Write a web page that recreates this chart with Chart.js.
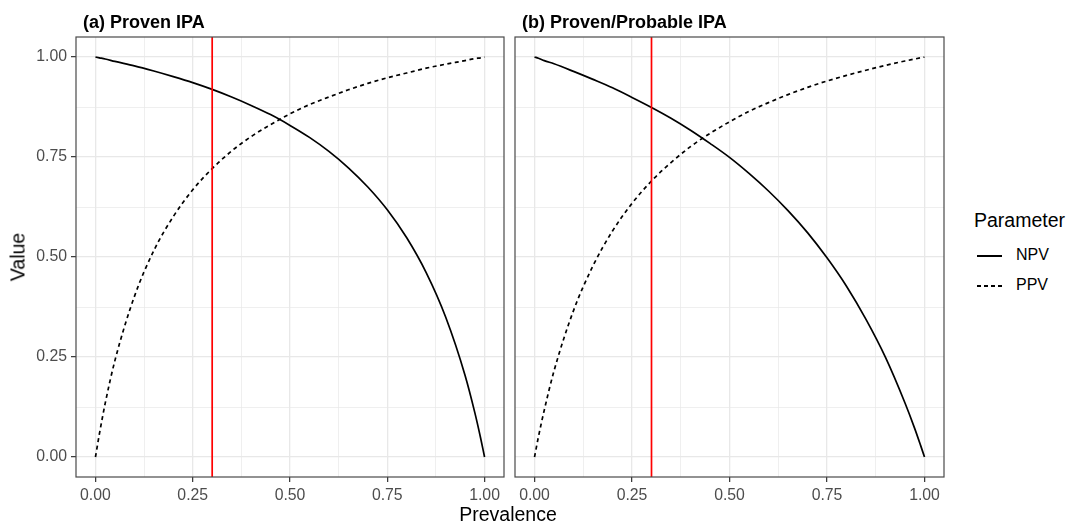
<!DOCTYPE html>
<html>
<head>
<meta charset="utf-8">
<script src="https://cdn.jsdelivr.net/npm/chart.js@4.4.1/dist/chart.umd.min.js"></script>
<style>
  body { margin: 0; background: #fff; font-family: "Liberation Sans", Arial, sans-serif; }
  #wrap { position: relative; width: 1068px; height: 523px; overflow: hidden; }
  canvas { position: absolute; top: 0; }
  #chartA { left: 0; }
  #chartB { left: 505px; }
  .txt { position: absolute; white-space: nowrap; color: #000; }
  .panel-title { font-weight: bold; font-size: 18px; top: 12px; }
  #ytitle { font-size: 19.5px; left: 18px; top: 257px; transform: translate(-50%, -50%) rotate(-90deg); }
  #xtitle { font-size: 19.5px; left: 508px; top: 514px; transform: translate(-50%, -50%); }
  #legTitle { font-size: 19.5px; left: 974px; top: 209px; }
  .key { position: absolute; left: 977px; width: 25px; height: 2px; }
  .legLabel { font-size: 16px; left: 1016px; }
</style>
</head>
<body>
<div id="wrap">
  <canvas id="chartA" width="510" height="523"></canvas>
  <canvas id="chartB" width="445" height="523"></canvas>
  <div class="txt panel-title" style="left:83px">(a) Proven IPA</div>
  <div class="txt panel-title" style="left:522px">(b) Proven/Probable IPA</div>
  <div class="txt" id="ytitle">Value</div>
  <div class="txt" id="xtitle">Prevalence</div>
  <div class="txt" id="legTitle">Parameter</div>
  <div class="key" style="top:255px; background:#000;"></div>
  <div class="txt legLabel" style="top:246px">NPV</div>
  <div class="key" style="top:285px; background:repeating-linear-gradient(to right, #000 0 4px, transparent 4px 7px);"></div>
  <div class="txt legLabel" style="top:276px">PPV</div>
</div>
<script>
// values
const prevalence = [0, 0.01, 0.025, 0.05, 0.1, 0.15, 0.2, 0.25, 0.3, 0.35, 0.4, 0.45, 0.5,
                    0.55, 0.6, 0.65, 0.7, 0.75, 0.8, 0.85, 0.9, 0.95, 0.975, 0.99, 1];

// (a) Proven IPA
const npvA = [1, 0.998, 0.995, 0.989, 0.978, 0.965, 0.951, 0.936, 0.919, 0.900, 0.879, 0.856, 0.829,
              0.799, 0.764, 0.723, 0.675, 0.618, 0.548, 0.461, 0.350, 0.204, 0.111, 0.047, 0];
const ppvA = [0, 0.057, 0.134, 0.241, 0.401, 0.516, 0.601, 0.668, 0.721, 0.765, 0.801, 0.831, 0.858,
              0.881, 0.900, 0.918, 0.934, 0.948, 0.960, 0.972, 0.982, 0.991, 0.996, 0.998, 1];

// (b) Proven/Probable IPA
const npvB = [1, 0.997, 0.991, 0.983, 0.964, 0.944, 0.923, 0.899, 0.874, 0.847, 0.817, 0.784, 0.749,
              0.709, 0.665, 0.616, 0.561, 0.498, 0.427, 0.344, 0.249, 0.135, 0.071, 0.029, 0];
const ppvB = [0, 0.050, 0.117, 0.215, 0.366, 0.478, 0.565, 0.634, 0.690, 0.736, 0.776, 0.809, 0.838,
              0.864, 0.886, 0.906, 0.924, 0.940, 0.954, 0.967, 0.979, 0.990, 0.995, 0.998, 1];

const cutoff = 0.3;
const axisLimits = [-0.05, 1.05];
const majorTicks = [0, 0.25, 0.5, 0.75, 1];
const minorTicks = [0.125, 0.375, 0.625, 0.875];
const tickLabels = ['0.00', '0.25', '0.50', '0.75', '1.00'];

const allTicks = majorTicks.concat(minorTicks).sort((a, b) => a - b);
const isMajor = v => majorTicks.includes(v);

function toPoints(ys) {
    return prevalence.map((x, i) => ({ x: x, y: ys[i] }));
}

// draws the panel box (theme_bw border)
const panelBorder = {
    id: 'panelBorder',
    afterDraw(chart) {
        const a = chart.chartArea;
        const ctx = chart.ctx;
        ctx.save();
        ctx.strokeStyle = '#4a4a4a';
        ctx.lineWidth = 1.2;
        ctx.strokeRect(a.left, a.top, a.right - a.left, a.bottom - a.top);
        ctx.restore();
    }
};

function gridOpts(showTicks) {
    return {
        color: '#e8e8e8',
        lineWidth: ctx => (ctx.tick && isMajor(ctx.tick.value)) ? 1.3 : 0.7,
        drawTicks: showTicks,
        tickLength: 5,
        tickWidth: 1.2,
        tickColor: ctx => (ctx.tick && isMajor(ctx.tick.value)) ? '#333333' : 'rgba(0,0,0,0)'
    };
}

function tickFont() {
    return { family: '"Liberation Sans", Arial, sans-serif', size: 15.8 };
}

function labelFor(value) {
    const i = majorTicks.indexOf(value);
    return i >= 0 ? tickLabels[i] : '';
}

function makePanel(canvasId, npv, ppv, showY) {
    const ctx = document.getElementById(canvasId).getContext('2d');
    return new Chart(ctx, {
        type: 'line',
        data: {
            datasets: [
                {
                    label: 'cutoff',
                    data: [{ x: cutoff, y: axisLimits[0] }, { x: cutoff, y: axisLimits[1] }],
                    borderColor: '#ff0000',
                    borderWidth: 1.7,
                    pointRadius: 0
                },
                {
                    label: 'NPV',
                    data: toPoints(npv),
                    borderColor: '#000000',
                    borderWidth: 1.7,
                    pointRadius: 0,
                    cubicInterpolationMode: 'monotone'
                },
                {
                    label: 'PPV',
                    data: toPoints(ppv),
                    borderColor: '#000000',
                    borderWidth: 1.7,
                    borderDash: [4, 3.5],
                    pointRadius: 0,
                    cubicInterpolationMode: 'monotone'
                }
            ]
        },
        options: {
            responsive: false,
            animation: false,
            events: [],
            layout: { padding: { top: 37, right: 6, left: showY ? 0 : 10, bottom: 0 } },
            plugins: { legend: { display: false }, tooltip: { enabled: false } },
            scales: {
                x: {
                    type: 'linear',
                    min: axisLimits[0],
                    max: axisLimits[1],
                    afterBuildTicks: s => { s.ticks = allTicks.map(v => ({ value: v })); },
                    afterFit: s => { s.height = 46; },
                    grid: gridOpts(true),
                    border: { display: false },
                    ticks: {
                        autoSkip: false,
                        maxRotation: 0,
                        padding: 4,
                        color: '#4d4d4d',
                        font: tickFont(),
                        callback: labelFor
                    }
                },
                y: {
                    type: 'linear',
                    min: axisLimits[0],
                    max: axisLimits[1],
                    afterBuildTicks: s => { s.ticks = allTicks.map(v => ({ value: v })); },
                    afterFit: s => { s.width = showY ? 76 : 0; },
                    grid: gridOpts(showY),
                    border: { display: false },
                    ticks: {
                        display: showY,
                        autoSkip: false,
                        padding: 4,
                        color: '#4d4d4d',
                        font: tickFont(),
                        callback: labelFor
                    }
                }
            }
        },
        plugins: [panelBorder]
    });
}

makePanel('chartA', npvA, ppvA, true);
makePanel('chartB', npvB, ppvB, false);
</script>
</body>
</html>
